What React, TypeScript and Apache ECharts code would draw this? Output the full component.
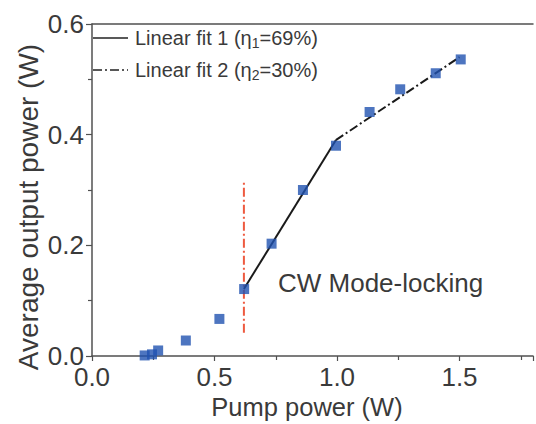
import React, { useEffect, useRef } from "react";
import * as echarts from "echarts";

const pumpPower = [0.215, 0.245, 0.27, 0.383, 0.52, 0.621, 0.733, 0.861, 0.996, 1.133, 1.258, 1.403, 1.505];
const outputPower = [0.001, 0.003, 0.01, 0.028, 0.067, 0.121, 0.203, 0.3, 0.38, 0.441, 0.482, 0.511, 0.536];
const fit1X = [0.62, 0.995];
const fit1Y = [0.121, 0.39];
const fit2X = [0.995, 1.5];
const fit2Y = [0.39, 0.54];
const thresholdX = [0.62, 0.62];
const thresholdY = [0.042, 0.318];
const xTicks = ["0.0", "0.5", "1.0", "1.5"];
const yTicks = ["0.0", "0.2", "0.4", "0.6"];
const legendNames = ["Linear fit 1", "Linear fit 2"];
const etaLabels = ["1", "2"];
const etaValues = ["69%", "30%"];
const xTitle = "Pump power (W)";
const yTitle = "Average output power (W)";
const annotation = "CW Mode-locking";

const FONT = "'Liberation Sans', Arial, Helvetica, sans-serif";
const TXT = "#3a3a3a";
const AX = "#505050";

export default function App() {
  const ref = useRef<HTMLDivElement>(null);
  useEffect(() => {
    if (!ref.current) return;
    const chart = echarts.init(ref.current, undefined, { renderer: "svg" });
    const pair = (xs: number[], ys: number[]) => xs.map((x, i) => [x, ys[i]]);
    const legendRich = {
      a: { fontSize: 20, fontFamily: FONT, color: TXT },
      s: { fontSize: 14, fontFamily: FONT, color: TXT, padding: [9, 0, 0, 0] },
    };
    const legendY = [38, 70];
    const dashes: any[] = ["solid", [9, 3, 2, 3]];
    const graphics: any[] = [];
    legendNames.forEach((n, i) => {
      graphics.push({
        type: "line",
        shape: { x1: 93, y1: legendY[i], x2: 128, y2: legendY[i] },
        style: { stroke: "#222", lineWidth: 1.6, lineDash: dashes[i] === "solid" ? null : dashes[i] },
      });
      graphics.push({
        type: "text",
        x: 135,
        y: legendY[i],
        style: {
          text: `{a|${n} (η}{s|${etaLabels[i]}}{a|=${etaValues[i]})}`,
          rich: legendRich,
          verticalAlign: "middle",
          fill: TXT,
        },
      });
    });
    chart.setOption({
      animation: false,
      backgroundColor: "#fff",
      textStyle: { fontFamily: FONT },
      grid: { left: 92, top: 24, width: 445, height: 332, containLabel: false },
      xAxis: [
        {
          type: "value",
          min: 0,
          max: 1.8,
          interval: 0.5,
          axisLine: { lineStyle: { color: AX, width: 1.5 } },
          axisTick: { show: true, length: 5, lineStyle: { color: AX, width: 1.2 } },
          minorTick: { show: true, splitNumber: 2, length: 4, lineStyle: { color: AX, width: 1.2 } },
          axisLabel: {
            fontSize: 26,
            color: TXT,
            margin: 8,
            formatter: (v: number) => (xTicks.includes(v.toFixed(1)) ? v.toFixed(1) : ""),
          },
          splitLine: { show: false },
        },
        {
          type: "value",
          position: "top",
          min: 0,
          max: 1.8,
          axisLine: { show: true, lineStyle: { color: AX, width: 1.5 } },
          axisTick: { show: false },
          axisLabel: { show: false },
          splitLine: { show: false },
        },
      ],
      yAxis: {
        type: "value",
        min: 0,
        max: 0.6,
        interval: 0.2,
        axisLine: { show: true, lineStyle: { color: AX, width: 1.5 } },
        axisTick: { show: true, length: 6, lineStyle: { color: AX, width: 1.2 } },
        minorTick: { show: true, splitNumber: 2, length: 4, lineStyle: { color: AX, width: 1.2 } },
        axisLabel: {
          fontSize: 26,
          color: TXT,
          margin: 8,
          formatter: (v: number) => (yTicks.includes(v.toFixed(1)) ? v.toFixed(1) : ""),
        },
        splitLine: { show: false },
      },
      series: [
        {
          name: "threshold",
          type: "line",
          data: pair(thresholdX, thresholdY),
          showSymbol: false,
          symbol: "none",
          lineStyle: { color: "#ee5a40", width: 2, type: [9, 3, 2, 3] },
          z: 2,
        },
        {
          name: legendNames[0],
          type: "line",
          data: pair(fit1X, fit1Y),
          symbol: "none",
          lineStyle: { color: "#1a1a1a", width: 2, type: "solid" },
          z: 3,
        },
        {
          name: legendNames[1],
          type: "line",
          data: pair(fit2X, fit2Y),
          symbol: "none",
          lineStyle: { color: "#1a1a1a", width: 2, type: [9, 3, 2, 3] },
          z: 3,
        },
        {
          name: "data",
          type: "scatter",
          data: pair(pumpPower, outputPower),
          symbol: "rect",
          symbolSize: 10,
          itemStyle: { color: "#2152b0" },
          z: 4,
        },
      ],
      graphic: [
        ...graphics,
        {
          type: "text",
          x: 278,
          y: 283,
          style: {
            text: annotation,
            fontSize: 26,
            fontFamily: FONT,
            fill: TXT,
            verticalAlign: "middle",
          },
        },
        {
          type: "text",
          x: 307,
          y: 407,
          style: {
            text: xTitle,
            fontSize: 25.5,
            fontFamily: FONT,
            fill: TXT,
            align: "center",
            verticalAlign: "middle",
          },
        },
        {
          type: "text",
          x: 28,
          y: 207,
          rotation: Math.PI / 2,
          style: {
            text: yTitle,
            fontSize: 28,
            fontFamily: FONT,
            fill: TXT,
            align: "center",
            verticalAlign: "middle",
          },
        },
      ],
    });
    return () => chart.dispose();
  }, []);
  return <div ref={ref} style={{ width: 536, height: 424, position: "absolute", left: 0, top: 0 }} />;
}
